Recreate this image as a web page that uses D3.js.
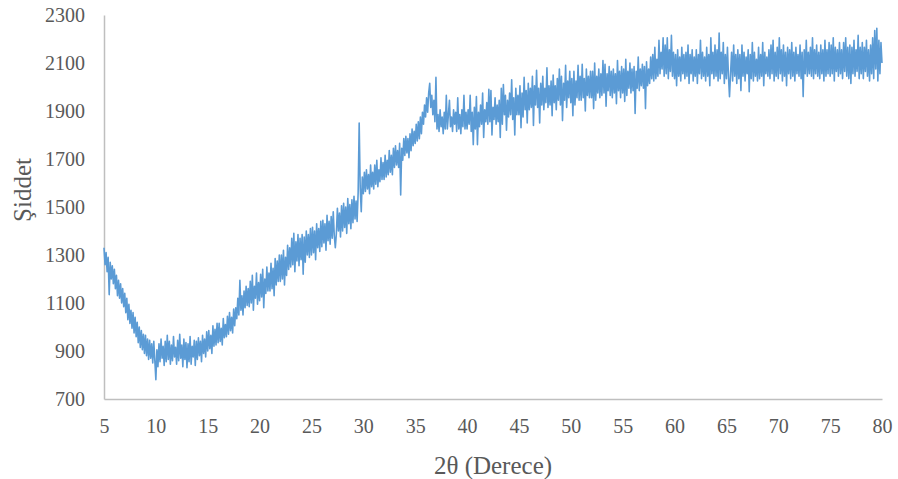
<!DOCTYPE html>
<html>
<head>
<meta charset="utf-8">
<script src="https://cdn.jsdelivr.net/npm/d3@7"></script>
<style>
  body { margin: 0; background: #fff; }
  svg text { font-family: "Liberation Serif", "Times New Roman", serif; fill: #595959; }
</style>
</head>
<body>
<div id="chart"></div>
<script>
// 2θ grid: start and step of the scan
var thetaStart = 5;
var thetaStep = 0.1;

// intensity, one row per degree (5.0 ... 79.9), then 80.0
var intensity = [
  1330, 1260, 1310, 1230, 1290, 1135, 1270, 1200, 1255, 1180,
  1240, 1160, 1215, 1130, 1195, 1120, 1180, 1100, 1160, 1085,
  1140, 1060, 1120, 1030, 1095, 1015, 1070, 995, 1060, 975,
  1040, 960, 1020, 935, 1000, 915, 985, 905, 970, 890,
  965, 880, 950, 865, 945, 870, 930, 850, 940, 860,
  780, 905, 835, 930, 855, 950, 870, 920, 840, 940,
  855, 965, 865, 940, 845, 925, 860, 960, 875, 915,
  845, 945, 860, 970, 870, 925, 835, 950, 865, 935,
  830, 930, 855, 960, 845, 920, 875, 945, 840, 940,
  865, 955, 880, 940, 855, 965, 890, 950, 875, 980,
  900, 985, 910, 965, 890, 1005, 920, 990, 925, 1015,
  935, 1015, 940, 995, 925, 1035, 955, 1010, 960, 1045,
  970, 1060, 985, 1040, 975, 1075, 1005, 1080, 1035, 1120,
  1050, 1195, 1070, 1130, 1050, 1150, 1080, 1170, 1090, 1160,
  1085, 1190, 1100, 1215, 1070, 1170, 1120, 1225, 1095, 1185,
  1110, 1220, 1125, 1240, 1080, 1200, 1140, 1250, 1150, 1225,
  1150, 1265, 1160, 1245, 1130, 1285, 1175, 1275, 1190, 1300,
  1190, 1300, 1200, 1320, 1175, 1290, 1215, 1340, 1240, 1330,
  1250, 1370, 1260, 1390, 1230, 1355, 1275, 1385, 1255, 1370,
  1280, 1385, 1220, 1375, 1270, 1400, 1300, 1385, 1290, 1410,
  1300, 1415, 1310, 1400, 1280, 1430, 1330, 1410, 1315, 1440,
  1335, 1445, 1350, 1430, 1320, 1465, 1360, 1440, 1345, 1460,
  1370, 1480, 1380, 1330, 1390, 1495, 1400, 1475, 1375, 1505,
  1400, 1515, 1415, 1500, 1390, 1535, 1430, 1510, 1410, 1530,
  1435, 1545, 1450, 1525, 1440, 1560, 1850, 1580, 1480, 1625,
  1555, 1645, 1565, 1655, 1575, 1635, 1555, 1675, 1585, 1645,
  1575, 1675, 1595, 1695, 1585, 1655, 1605, 1705, 1615, 1685,
  1615, 1715, 1625, 1695, 1635, 1735, 1645, 1715, 1635, 1745,
  1665, 1755, 1675, 1735, 1665, 1765, 1550, 1745, 1695, 1785,
  1715, 1795, 1725, 1785, 1705, 1805, 1735, 1825, 1755, 1815,
  1765, 1845, 1775, 1855, 1785, 1875, 1805, 1895, 1845, 1925,
  1875, 1955, 1895, 1975, 2015, 1915, 1965, 1885, 1945, 1855,
  2040, 1825, 1885, 1815, 1905, 1835, 1875, 1805, 1895, 1825,
  1965, 1825, 1885, 1945, 1835, 1875, 1815, 1905, 1845, 1895,
  1815, 1955, 1825, 1885, 1805, 1905, 1835, 1965, 1825, 1895,
  1825, 1905, 1845, 1965, 1815, 1895, 1760, 1915, 1825, 1960,
  1760, 1895, 1835, 1925, 1845, 1975, 1790, 1905, 1855, 1935,
  1845, 1990, 1855, 1985, 1800, 1915, 1865, 1955, 1845, 1925,
  1855, 1945, 1790, 1995, 1845, 2010, 1885, 1965, 1820, 1945,
  1875, 1975, 1885, 2030, 1865, 1955, 1800, 1995, 1885, 1965,
  1885, 2005, 1830, 1975, 1875, 2040, 1905, 1985, 1850, 2015,
  1905, 1995, 1915, 2045, 1840, 2005, 1925, 2070, 1915, 1995,
  1850, 2015, 1925, 2045, 1905, 1995, 1935, 2080, 1915, 2005,
  1925, 2025, 1880, 2050, 1935, 2005, 1905, 2035, 1945, 2075,
  1925, 2045, 1860, 2015, 1945, 2090, 1915, 2025, 1955, 2065,
  1935, 2035, 1880, 2065, 1925, 2025, 1955, 2090, 1945, 2045,
  1945, 2095, 1955, 2035, 1900, 2075, 1965, 2045, 1955, 2065,
  1955, 2065, 1910, 2100, 1945, 2045, 1975, 2075, 1955, 2055,
  1965, 2110, 1975, 2095, 1920, 2055, 1985, 2085, 1965, 2065,
  1955, 2075, 1975, 2055, 1930, 2110, 1985, 2065, 1955, 2085,
  1975, 2075, 1940, 2115, 1965, 2065, 1995, 2100, 1975, 2075,
  1985, 2085, 1890, 2065, 1995, 2125, 1985, 2075, 2005, 2095,
  1995, 2085, 1910, 2105, 2005, 2075, 2015, 2125, 2035, 2135,
  2025, 2165, 2035, 2115, 2045, 2195, 2055, 2145, 2075, 2205,
  2045, 2175, 2055, 2205, 2035, 2155, 2065, 2215, 2045, 2145,
  2035, 2135, 2005, 2155, 2045, 2125, 2025, 2165, 2055, 2135,
  2035, 2145, 2045, 2175, 2015, 2135, 2055, 2155, 2025, 2125,
  2045, 2155, 2015, 2135, 2055, 2195, 2035, 2145, 2045, 2125,
  2025, 2165, 2045, 2135, 2005, 2205, 2055, 2145, 2035, 2175,
  2045, 2155, 2025, 2225, 2035, 2145, 2055, 2185, 2015, 2135,
  2035, 2165, 2045, 1960, 2055, 2145, 2025, 2175, 2045, 2135,
  2015, 2155, 2035, 2135, 1985, 2175, 2045, 2145, 2025, 2125,
  2055, 2155, 1980, 2135, 2035, 2185, 2025, 2145, 2045, 2115,
  2025, 2165, 2035, 2135, 2045, 2185, 2005, 2145, 2055, 2125,
  2045, 2155, 2035, 2175, 2055, 2195, 2025, 2145, 2045, 2165,
  2035, 2205, 2055, 2155, 2025, 2175, 2045, 2145, 2005, 2165,
  2055, 2155, 2035, 2185, 2045, 2145, 2025, 2165, 2055, 2135,
  2045, 2175, 2035, 2145, 1960, 2155, 2055, 2195, 2045, 2145,
  2055, 2165, 2045, 2205, 2035, 2155, 2055, 2175, 2045, 2145,
  2035, 2175, 2055, 2155, 2025, 2195, 2045, 2155, 2055, 2185,
  2045, 2175, 2055, 2205, 2025, 2165, 2065, 2155, 2045, 2185,
  2055, 2155, 2035, 2185, 2065, 2205, 2045, 2165, 2035, 2175,
  2015, 2165, 2055, 2195, 2045, 2155, 2065, 2215, 2035, 2165,
  2055, 2185, 2035, 2165, 2065, 2195, 2045, 2155, 2025, 2175,
  2055, 2205, 2035, 2235, 2075, 2245, 2025, 2195, 2055, 2185,
  2100
];

var xTicks = [5, 10, 15, 20, 25, 30, 35, 40, 45, 50, 55, 60, 65, 70, 75, 80];
var yTicks = [700, 900, 1100, 1300, 1500, 1700, 1900, 2100, 2300];
var xLabel = "2θ (Derece)";
var yLabel = "Şiddet";

var points = intensity.map(function(v, i) {
  return { theta: thetaStart + i * thetaStep, value: v };
});

var width = 898, height = 479;
var margin = { top: 15, right: 16, bottom: 80, left: 104 };

var svg = d3.select("#chart").append("svg")
  .attr("width", width)
  .attr("height", height);

var xScale = d3.scaleLinear()
  .domain([5, 80])
  .range([margin.left, width - margin.right]);

var yScale = d3.scaleLinear()
  .domain([700, 2300])
  .range([height - margin.bottom, margin.top]);

// axes: Excel style, plain gray lines, no tick marks
var xAxis = d3.axisBottom(xScale)
  .tickValues(xTicks)
  .tickSize(0)
  .tickPadding(20)
  .tickFormat(d3.format("d"));

var yAxis = d3.axisLeft(yScale)
  .tickValues(yTicks)
  .tickSize(0)
  .tickPadding(19)
  .tickFormat(d3.format("d"));

var gx = svg.append("g")
  .attr("class", "x-axis axis")
  .attr("transform", "translate(0," + (height - margin.bottom) + ")")
  .call(xAxis);

var gy = svg.append("g")
  .attr("class", "y-axis axis")
  .attr("transform", "translate(" + margin.left + ",0)")
  .call(yAxis);

[gx, gy].forEach(function(g) {
  g.select(".domain").attr("stroke", "#bfbfbf").attr("stroke-width", 1.5);
  g.selectAll("text")
    .style("font-size", "20px")
    .attr("fill", "#595959");
});

// the scan
svg.append("path")
  .datum(points)
  .attr("fill", "none")
  .attr("stroke", "#5b9bd5")
  .attr("stroke-width", 1.6)
  .attr("stroke-linejoin", "round")
  .attr("d", d3.line()
    .x(function(d) { return xScale(d.theta); })
    .y(function(d) { return yScale(d.value); })
  );

// axis titles
svg.append("text")
  .text(xLabel)
  .attr("x", (margin.left + width - margin.right) / 2)
  .attr("y", 474)
  .style("text-anchor", "middle")
  .style("font-size", "25px");

svg.append("text")
  .text(yLabel)
  .attr("transform", "translate(31," + 190 + ") rotate(-90)")
  .style("text-anchor", "middle")
  .style("font-size", "25px");
</script>
</body>
</html>
